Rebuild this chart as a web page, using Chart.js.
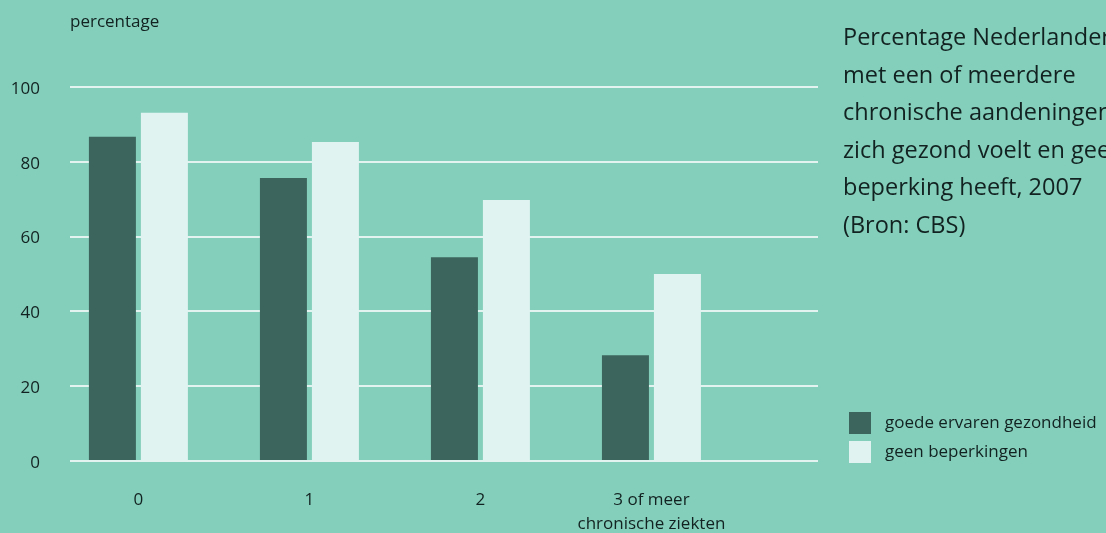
<!DOCTYPE html>
<html><head><meta charset="utf-8">
<script src="https://cdn.jsdelivr.net/npm/chart.js@4.4.1/dist/chart.umd.min.js"></script>
<style>html,body{margin:0;padding:0;background:#84cfbb;overflow:hidden}#c{display:block}</style>
</head><body>
<canvas id="c" width="1106" height="533"></canvas>
<script>
const categories = ['0', '1', '2', ['3 of meer', 'chronische ziekten']];
const seriesNames = ['goede ervaren gezondheid', 'geen beperkingen'];
const goedeErvarenGezondheid = [86.7, 75.7, 54.5, 28.3];
const geenBeperkingen = [93.1, 85.3, 69.8, 50.0];
const yTicks = [0, 20, 40, 60, 80, 100];
const yAxisLabel = 'percentage';
const titleLines = ['Percentage Nederlanders', 'met een of meerdere', 'chronische aandeningen', 'zich gezond voelt en geen', 'beperking heeft, 2007', '(Bron: CBS)'];

const TEXT = '#122220';
const FONT = '"Open Sans", sans-serif';

const textPlugin = {
  id: 'texts',
  afterDraw(chart) {
    const ctx = chart.ctx;
    ctx.save();
    ctx.fillStyle = TEXT;
    ctx.textAlign = 'left';
    ctx.textBaseline = 'alphabetic';
    ctx.font = '17px ' + FONT;
    ctx.fillText(yAxisLabel, chart.chartArea.left, 27);
    ctx.font = '23.5px ' + FONT;
    titleLines.forEach((l, i) => ctx.fillText(l, 843, 45 + i * 37.5));
    ctx.font = '17px ' + FONT;
    ctx.textBaseline = 'middle';
    chart.data.datasets.forEach((ds, i) => {
      ctx.fillStyle = ds.backgroundColor;
      ctx.fillRect(849, 412 + i * 29, 22, 22);
      ctx.fillStyle = TEXT;
      ctx.fillText(ds.label, 885, 423 + i * 29);
    });
    ctx.restore();
  }
};

new Chart(document.getElementById('c'), {
  type: 'bar',
  data: {
    datasets: [
      { label: seriesNames[0], data: goedeErvarenGezondheid.map((v, i) => ({ x: i, y: v })), backgroundColor: '#3c665d' },
      { label: seriesNames[1], data: geenBeperkingen.map((v, i) => ({ x: i, y: v })), backgroundColor: '#e1f3f1' }
    ]
  },
  options: {
    responsive: false,
    devicePixelRatio: 1,
    animation: false,
    categoryPercentage: 0.608,
    barPercentage: 0.904,
    layout: { padding: { left: 0, right: 288, top: 87, bottom: 0 } },
    plugins: { legend: { display: false }, tooltip: { enabled: false }, title: { display: false } },
    scales: {
      x: {
        type: 'linear',
        offset: false,
        min: -0.4,
        max: 3.974,
        afterBuildTicks: s => { s.ticks = categories.map((_, i) => ({ value: i })); },
        afterFit: s => { s.height = 72; },
        grid: { display: false, drawTicks: false, offset: false },
        border: { display: false },
        ticks: {
          callback: v => categories[v],
          autoSkip: false, maxRotation: 0,
          padding: 28,
          color: TEXT,
          font: { family: FONT, size: 17, lineHeight: 1.36 }
        }
      },
      y: {
        min: 0, max: 100,
        afterBuildTicks: s => { s.ticks = yTicks.map(v => ({ value: v })); },
        afterFit: s => { s.width = 70; },
        grid: { color: '#e3f4f0', lineWidth: 2, drawTicks: false },
        border: { display: false },
        ticks: { padding: 30, labelOffset: 2, color: TEXT, font: { family: FONT, size: 17 } }
      }
    }
  },
  plugins: [textPlugin]
});
</script>
</body></html>
